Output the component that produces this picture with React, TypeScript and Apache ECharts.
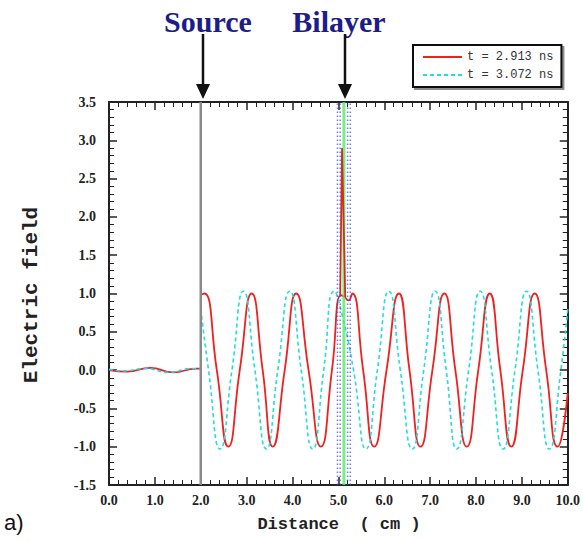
import React, { useEffect, useRef } from "react";
import * as echarts from "echarts";

const xRange = [0, 10];
const yRange = [-1.5, 3.5];
const legendNames = ["t = 2.913 ns", "t = 3.072 ns"];

// red curve (t = 2.913 ns)
const redLeft = [[0, 0], [0.4, -0.02], [0.9, 0.03], [1.4, -0.03], [1.9, 0.02], [2.0, 0.02]];
const redMain = [
  [2.0, 0.98], [2.08, 1.0], [2.35, 0], [2.6, -1.0], [2.85, 0], [3.11, 1.0], [3.35, 0], [3.57, -1.0],
  [3.83, 0], [4.08, 1.0], [4.35, 0], [4.62, -1.0], [4.86, 0], [5.06, 0.98], [5.14, 0.95], [5.22, 0.91],
  [5.3, 1.0], [5.54, 0], [5.78, -1.0], [6.05, 0], [6.32, 1.0], [6.55, 0], [6.79, -1.0], [7.05, 0],
  [7.31, 1.0], [7.55, 0], [7.8, -1.0], [8.05, 0], [8.3, 1.0], [8.53, 0], [8.77, -1.0], [9.02, 0],
  [9.28, 1.0], [9.53, 0], [9.78, -1.0], [10.0, -0.3],
];
const redSpike = [[5.04, 0.98], [5.08, 2.9], [5.15, 0.95]];

// cyan curve (t = 3.072 ns)
const cyanLeft = [[0, 0.01], [0.3, -0.01], [0.8, 0.02], [1.3, -0.03], [1.8, 0.02], [2.0, 0.01]];
const cyanMain = [
  [2.0, 0.8], [2.17, 0], [2.42, -1.03], [2.68, 0], [2.93, 1.03], [3.18, 0], [3.43, -1.03], [3.68, 0],
  [3.94, 1.03], [4.19, 0], [4.44, -1.03], [4.68, 0], [4.91, 1.03], [5.09, 0.7], [5.33, 0], [5.6, -1.03],
  [5.85, 0], [6.1, 1.03], [6.35, 0], [6.61, -1.03], [6.86, 0], [7.11, 1.03], [7.35, 0], [7.58, -1.03],
  [7.84, 0], [8.09, 1.03], [8.34, 0], [8.59, -1.03], [8.85, 0], [9.1, 1.03], [9.35, 0], [9.6, -1.03],
  [9.85, 0], [10.0, 0.8],
];

const sourceX = [2.0];
const bilayerDotted = [4.98, 5.04, 5.2, 5.26];
const bilayerGreen = [5.12];

const vline = (x: number) => [[x, yRange[0]], [x, yRange[1]]];

function buildOption() {
  const axisCommon = {
    axisLine: { onZero: false, lineStyle: { color: "#222", width: 2 } },
    axisTick: { inside: true, length: 8, lineStyle: { color: "#222", width: 1.5 } },
    minorTick: { show: true, splitNumber: 5, length: 5, lineStyle: { color: "#222", width: 1 } },
    splitLine: { show: false },
    minorSplitLine: { show: false },
  };
  const labelStyle = {
    fontFamily: "Liberation Serif",
    fontWeight: "bold" as const,
    fontSize: 14,
    color: "#222",
  };
  const series: any[] = [];
  const redStyle = { color: "#ee2020", width: 1.8 };
  const cyanStyle = { color: "#22dde0", width: 1.6, type: [4, 3] };
  series.push({ type: "line", name: legendNames[0], data: redLeft, symbol: "none", smooth: 0.5, lineStyle: redStyle, itemStyle: { color: "#ee2020" }, z: 3 });
  series.push({ type: "line", name: legendNames[0], data: redMain, symbol: "none", smooth: 0.55, lineStyle: redStyle, itemStyle: { color: "#ee2020" }, z: 3 });
  series.push({ type: "line", name: legendNames[0], data: redSpike, symbol: "none", smooth: false, lineStyle: { color: "#cc3020", width: 1.8 }, itemStyle: { color: "#ee2020" }, z: 7 });
  series.push({ type: "line", name: legendNames[1], data: cyanLeft, symbol: "none", smooth: 0.5, lineStyle: cyanStyle, itemStyle: { color: "#22dde0" }, z: 4 });
  series.push({ type: "line", name: legendNames[1], data: cyanMain, symbol: "none", smooth: 0.55, lineStyle: cyanStyle, itemStyle: { color: "#22dde0" }, z: 4 });
  sourceX.forEach((x) =>
    series.push({ type: "line", name: "source", data: vline(x), symbol: "none", lineStyle: { color: "#8a8a8a", width: 2.5 }, z: 5 })
  );
  bilayerDotted.forEach((x) =>
    series.push({ type: "line", name: "bilayer-edge", data: vline(x), symbol: "none", lineStyle: { color: "#3040ff", width: 1.5, type: [1.5, 2.5], opacity: 0.7 }, z: 5 })
  );
  bilayerGreen.forEach((x) =>
    series.push({ type: "line", name: "bilayer", data: vline(x), symbol: "none", lineStyle: { color: "#5ee85e", width: 3, opacity: 0.8 }, z: 6 })
  );

  return {
    animation: false,
    backgroundColor: "#ffffff",
    grid: { left: 109, right: 13, top: 102, bottom: 57 },
    legend: {
      data: legendNames,
      orient: "vertical",
      left: 413,
      top: 45,
      itemWidth: 39,
      itemHeight: 12,
      itemGap: 6,
      padding: [6, 8, 6, 9],
      borderColor: "#111",
      borderWidth: 2,
      backgroundColor: "#fff",
      shadowColor: "rgba(0,0,0,0.45)",
      shadowOffsetX: 2,
      shadowOffsetY: 2,
      shadowBlur: 0,
      selectedMode: false,
      itemStyle: { opacity: 0 },
      textStyle: { fontFamily: "Liberation Mono", fontSize: 12, color: "#333" },
    },
    xAxis: [
      {
        type: "value", min: xRange[0], max: xRange[1], interval: 1, position: "bottom",
        ...axisCommon,
        axisLabel: { ...labelStyle, margin: 8, formatter: (v: number) => v.toFixed(1) },
      },
      {
        type: "value", min: xRange[0], max: xRange[1], interval: 1, position: "top",
        ...axisCommon,
        axisLabel: { show: false },
      },
    ],
    yAxis: [
      {
        type: "value", min: yRange[0], max: yRange[1], interval: 0.5, position: "left",
        ...axisCommon,
        axisLabel: { ...labelStyle, margin: 13, formatter: (v: number) => v.toFixed(1) },
      },
      {
        type: "value", min: yRange[0], max: yRange[1], interval: 0.5, position: "right",
        ...axisCommon,
        axisLabel: { show: false },
      },
    ],
    series,
    graphic: [
      { type: "text", x: 208, y: 21, style: { text: "Source", fontSize: 30, fontWeight: "bold", fontFamily: "Liberation Serif", fill: "#1c1c8a", textAlign: "center", textVerticalAlign: "middle" } },
      { type: "text", x: 339, y: 21, style: { text: "Bilayer", fontSize: 30, fontWeight: "bold", fontFamily: "Liberation Serif", fill: "#1c1c8a", textAlign: "center", textVerticalAlign: "middle" } },
      { type: "line", shape: { x1: 203, y1: 34, x2: 203, y2: 88 }, style: { stroke: "#111", lineWidth: 2.5 } },
      { type: "polygon", shape: { points: [[196, 84], [210, 84], [203, 99]] }, style: { fill: "#111" } },
      { type: "line", shape: { x1: 345, y1: 34, x2: 345, y2: 88 }, style: { stroke: "#111", lineWidth: 2.5 } },
      { type: "polygon", shape: { points: [[338, 84], [352, 84], [345, 99]] }, style: { fill: "#111" } },
      { type: "text", x: 31, y: 295, rotation: Math.PI / 2, style: { text: "Electric field", fontSize: 21, fontWeight: "bold", fontFamily: "Liberation Mono", fill: "#222", textAlign: "center", textVerticalAlign: "middle" } },
      { type: "text", x: 339, y: 524, style: { text: "Distance  ( cm )", fontSize: 17, fontWeight: "bold", fontFamily: "Liberation Mono", fill: "#222", textAlign: "center", textVerticalAlign: "middle" } },
      { type: "text", x: 4, y: 522, style: { text: "a)", fontSize: 22, fontFamily: "Liberation Sans", fill: "#111", textAlign: "left", textVerticalAlign: "middle" } },
    ],
  };
}

export default function App() {
  const ref = useRef<HTMLDivElement>(null);
  useEffect(() => {
    if (!ref.current) return;
    const chart = echarts.init(ref.current, null, { renderer: "svg" });
    chart.setOption(buildOption() as any);
    return () => chart.dispose();
  }, []);
  return (
    <div
      ref={ref}
      style={{ position: "fixed", left: 0, top: 0, width: 583, height: 542, background: "#fff" }}
    />
  );
}
